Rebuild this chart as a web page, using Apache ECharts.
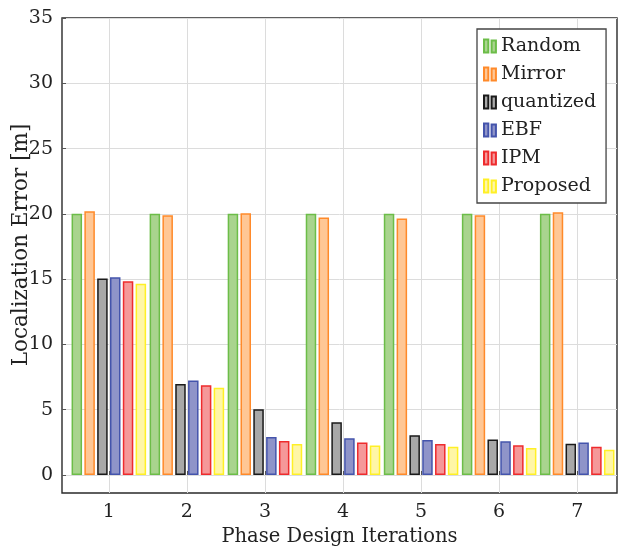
<!DOCTYPE html>
<html>
<head>
<meta charset="utf-8">
<script src="https://cdn.jsdelivr.net/npm/echarts@6/dist/echarts.min.js"></script>
<style>
  html, body { margin: 0; padding: 0; background: #fff; }
  #chart { width: 619px; height: 554px; }
</style>
</head>
<body>
<div id="chart"></div>
<script>
// Iteration numbers along the x axis
const iterations = [1, 2, 3, 4, 5, 6, 7];
const yTicks = [0, 5, 10, 15, 20, 25, 30, 35];

// Localization error [m] per method and iteration
const randomErr    = [20.0, 20.0, 20.0, 20.0, 20.0, 20.0, 20.0];
const mirrorErr    = [20.2, 19.9, 20.05, 19.72, 19.64, 19.9, 20.13];
const quantizedErr = [15.04, 6.97, 5.03, 4.04, 3.04, 2.71, 2.4];
const ebfErr       = [15.15, 7.23, 2.91, 2.81, 2.68, 2.58, 2.48];
const ipmErr       = [14.84, 6.87, 2.6, 2.48, 2.38, 2.27, 2.17];
const proposedErr  = [14.64, 6.69, 2.38, 2.25, 2.17, 2.07, 1.94];

const seriesNames = ['Random', 'Mirror', 'quantized', 'EBF', 'IPM', 'Proposed'];
const seriesValues = [randomErr, mirrorErr, quantizedErr, ebfErr, ipmErr, proposedErr];
const fills   = ['#a9d48e', '#ffc795', '#a8a8a8', '#8f94c9', '#f59899', '#fff6a6'];
const borders = ['#6cbd48', '#ff8a2a', '#1a1a1a', '#4454ac', '#ee2b2d', '#fff026'];

const font = '"DejaVu Serif", "Liberation Serif", serif';

const chart = echarts.init(document.getElementById('chart'), null, { renderer: 'canvas' });

const series = seriesNames.map((name, i) => ({
  name: name,
  type: 'bar',
  barWidth: 10.5,
  barGap: '22%',
  data: iterations.map((it, k) => [it, seriesValues[i][k]]),
  itemStyle: { color: fills[i], borderColor: borders[i], borderWidth: 1.5 }
}));

chart.setOption({
  animation: false,
  backgroundColor: '#fff',
  grid: {
    left: 62, right: 2, top: 18, bottom: 61,
    containLabel: false,
    outerBoundsMode: 'none',
    show: true, borderColor: '#2a2a2a', borderWidth: 1.4, backgroundColor: 'transparent'
  },
  legend: {
    orient: 'vertical',
    left: 477, top: 29,
    padding: [7, 10, 7, 6],
    itemGap: 8,
    itemWidth: 12, itemHeight: 13,
    icon: 'path://M0,0h4v12h-4z M7,1h4v11h-4z',
    backgroundColor: '#fff',
    borderColor: '#444', borderWidth: 1.3,
    textStyle: { fontFamily: font, fontSize: 19, color: '#222', lineHeight: 20 },
    data: seriesNames
  },
  graphic: [{
    type: 'text',
    x: 21, y: 245,
    rotation: Math.PI / 2,
    style: {
      text: 'Localization Error [m]',
      fontFamily: font, fontSize: 21.5, fill: '#222',
      align: 'center', verticalAlign: 'middle'
    }
  }],
  xAxis: {
    type: 'value',
    min: 0.4, max: 7.51,
    name: 'Phase Design Iterations',
    nameLocation: 'middle',
    nameGap: 34,
    nameTextStyle: { fontFamily: font, fontSize: 19.5, color: '#222' },
    axisLine: { show: false },
    axisTick: { show: true, inside: true, length: 4, customValues: iterations, lineStyle: { color: '#555' } },
    axisLabel: { customValues: iterations, fontFamily: font, fontSize: 19, color: '#222', margin: 10 },
    splitLine: { show: true, lineStyle: { color: '#dcdcdc', width: 1 } }
  },
  yAxis: {
    type: 'value',
    min: -1.38, max: 35,
    axisLine: { show: false },
    axisTick: { show: true, inside: true, length: 4, customValues: yTicks, lineStyle: { color: '#555' } },
    axisLabel: { customValues: yTicks, fontFamily: font, fontSize: 19, color: '#222', margin: 9 },
    splitLine: { show: true, lineStyle: { color: '#dcdcdc', width: 1 } }
  },
  series: series
});
</script>
</body>
</html>
